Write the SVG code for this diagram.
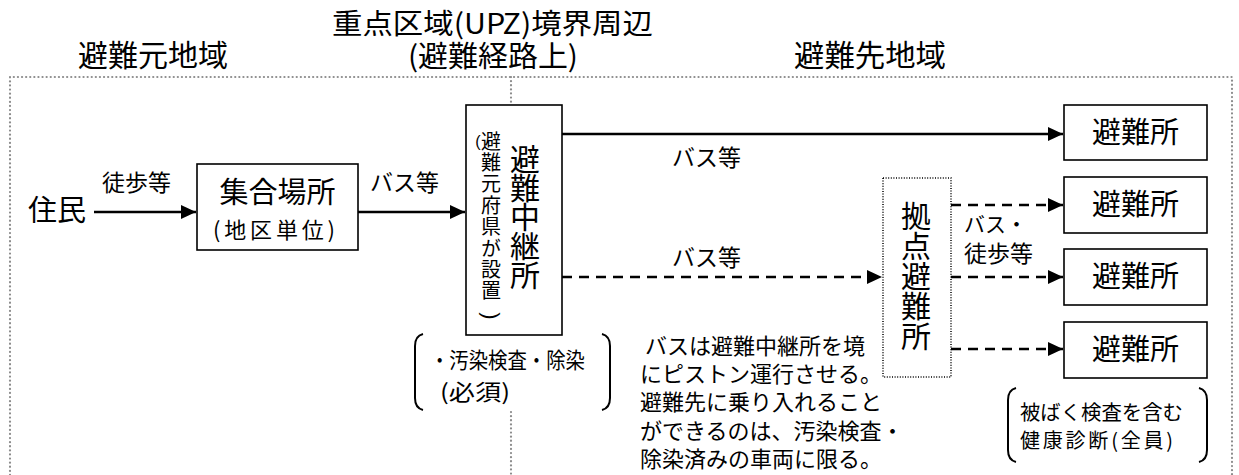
<svg xmlns="http://www.w3.org/2000/svg" width="1239" height="475" viewBox="0 0 1239 475">
<style>
text{font-family:"Noto Sans CJK JP","Noto Sans",sans-serif;fill:#000}
.t30{font-size:30px}
.t29{font-size:29px}
.t23{font-size:23px}
.t22{font-size:22px}
.t21{font-size:21px}
.vt{writing-mode:vertical-rl}
.box{fill:#fff;stroke:#000;stroke-width:1.6}
.dotbox{fill:#fff;stroke:#000;stroke-width:1.5;stroke-dasharray:1 1.6}
.frame{fill:none;stroke:#8c8c8c;stroke-width:2.2;stroke-linecap:round;stroke-dasharray:0.1 4}
.ln{fill:none;stroke:#000;stroke-width:2.6}
.dash{stroke-dasharray:10 7}
.br{fill:none;stroke:#000;stroke-width:2}
</style>
<defs>
<marker id="ah" markerUnits="userSpaceOnUse" markerWidth="16" markerHeight="14" refX="15" refY="7" orient="auto">
<path d="M0,0 L15,7 L0,14 z" fill="#000"/>
</marker>
</defs>
<rect width="1239" height="475" fill="#fff"/>

<g id="frame">
<path class="frame" d="M10,475 L10,77 L1232,77 L1232,475"/>
<path class="frame" d="M511,77 L511,105"/>
<path class="frame" d="M511,412 L511,475"/>
</g>

<g id="titles">
<text class="t30" x="78" y="66" textLength="150" lengthAdjust="spacingAndGlyphs">避難元地域</text>
<text x="332" y="34" style="font-size:28px" textLength="321" lengthAdjust="spacingAndGlyphs">重点区域(UPZ)境界周辺</text>
<text class="t29" x="408" y="67" textLength="170" lengthAdjust="spacingAndGlyphs">(避難経路上)</text>
<text class="t30" x="794" y="66" textLength="152" lengthAdjust="spacingAndGlyphs">避難先地域</text>
</g>

<g id="connectors">
<line class="ln" x1="94" y1="212" x2="196" y2="212" marker-end="url(#ah)"/>
<line class="ln" x1="358" y1="212" x2="465" y2="212" marker-end="url(#ah)"/>
<line class="ln" x1="562" y1="134" x2="1063" y2="134" marker-end="url(#ah)"/>
<line class="ln dash" x1="562" y1="277" x2="882" y2="277" marker-end="url(#ah)"/>
<line class="ln dash" x1="951" y1="205" x2="1063" y2="205" marker-end="url(#ah)"/>
<line class="ln dash" x1="951" y1="277" x2="1063" y2="277" marker-end="url(#ah)"/>
<line class="ln dash" x1="951" y1="349" x2="1063" y2="349" marker-end="url(#ah)"/>
<text class="t23" x="102" y="191">徒歩等</text>
<text class="t23" x="370" y="191">バス等</text>
<text class="t23" x="672" y="166">バス等</text>
<text class="t23" x="672" y="266">バス等</text>
<text class="t21" x="964" y="232">バス・</text>
<text class="t23" x="964" y="262">徒歩等</text>
</g>

<g id="jumin">
<text x="28" y="221" style="font-size:29px">住民</text>
</g>

<g id="shugo">
<rect class="box" x="197" y="164" width="161" height="86"/>
<text class="t29" x="277.5" y="203" text-anchor="middle">集合場所</text>
<text x="213" y="238" style="font-size:22px" textLength="122" lengthAdjust="spacing">(地区単位)</text>
</g>

<g id="chukei">
<rect class="box" x="466" y="105" width="96" height="230"/>
<text class="t30 vt" x="525" y="144" style="letter-spacing:-1px">避難中継所</text>
<text x="478" y="147" text-anchor="middle" style="font-size:16px;font-family:'Liberation Sans',sans-serif">(</text>
<text class="vt" x="491" y="131" style="font-size:20px;letter-spacing:1.4px">避難元府県が設置</text>
<text transform="translate(491,316) rotate(90)" x="0" y="0" text-anchor="middle" dominant-baseline="central" style="font-size:22px;font-family:'Liberation Sans',sans-serif">)</text>
</g>

<g id="kyoten">
<rect class="dotbox" x="883" y="178" width="68" height="199"/>
<text class="t30 vt" x="916" y="201">拠点避難所</text>
</g>

<g id="hinanjo1">
<rect class="box" x="1064" y="105" width="143" height="55"/>
<text class="t29" x="1135.5" y="143" text-anchor="middle">避難所</text>
</g>
<g id="hinanjo2">
<rect class="box" x="1064" y="177" width="143" height="56"/>
<text class="t29" x="1135.5" y="215" text-anchor="middle">避難所</text>
</g>
<g id="hinanjo3">
<rect class="box" x="1064" y="249" width="143" height="56"/>
<text class="t29" x="1135.5" y="287" text-anchor="middle">避難所</text>
</g>
<g id="hinanjo4">
<rect class="box" x="1064" y="322" width="143" height="56"/>
<text class="t29" x="1135.5" y="360" text-anchor="middle">避難所</text>
</g>

<g id="note-kensa">
<path class="br" d="M423,334 Q415,336 415,346 L415,398 Q415,408 423,410"/>
<path class="br" d="M602,334 Q610,336 610,346 L610,398 Q610,408 602,410"/>
<text class="t22" x="430" y="368" textLength="155" lengthAdjust="spacingAndGlyphs">・汚染検査・除染</text>
<text class="t22" x="440" y="400" textLength="70" lengthAdjust="spacingAndGlyphs">(必須)</text>
</g>

<g id="note-bus">
<text class="t22" x="645" y="354">バスは避難中継所を境</text>
<text class="t22" x="640" y="382">にピストン運行させる。</text>
<text class="t22" x="640" y="410">避難先に乗り入れること</text>
<text class="t22" x="640" y="439">ができるのは、汚染検査・</text>
<text class="t22" x="640" y="467">除染済みの車両に限る。</text>
</g>

<g id="note-kenko">
<path class="br" d="M1016,388 Q1008,390 1008,400 L1008,450 Q1008,460 1016,462"/>
<path class="br" d="M1199,388 Q1207,390 1207,400 L1207,450 Q1207,460 1199,462"/>
<text x="1020" y="420" style="font-size:20px" textLength="163" lengthAdjust="spacingAndGlyphs">被ばく検査を含む</text>
<text x="1020" y="448" style="font-size:20px" textLength="153" lengthAdjust="spacing">健康診断(全員)</text>
</g>
</svg>
